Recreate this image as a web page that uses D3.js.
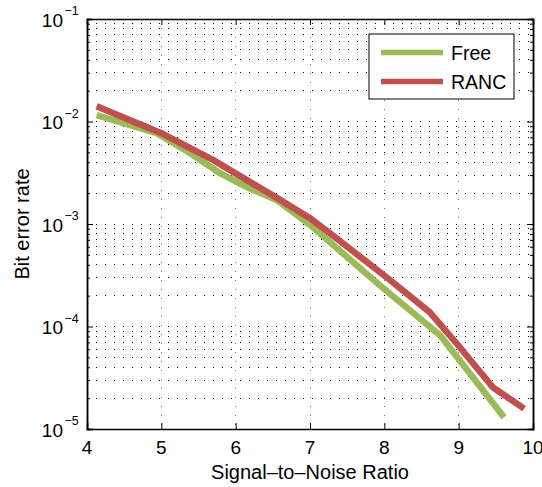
<!DOCTYPE html>
<html><head><meta charset="utf-8">
<script src="https://cdn.jsdelivr.net/npm/d3@7"></script>
<style>
html,body{margin:0;padding:0;background:#fff;}
svg text{font-family:"Liberation Sans",Arial,Helvetica,sans-serif;fill:#000;}
</style></head>
<body>
<svg id="chart" width="542" height="487"></svg>
<script>
// ---- data ----
const freeSNR = [4.13, 4.94, 5.39, 5.79, 6.15, 6.56, 7.0, 7.94, 8.75, 9.61];
const freeBER = [0.01155, 0.0077, 0.0049, 0.00313, 0.00229, 0.0017, 0.00098, 0.000252, 0.000082, 0.000013];
const rancSNR = [4.13, 5.0, 5.7, 6.15, 6.56, 7.0, 7.27, 8.08, 8.61, 8.99, 9.46, 9.88];
const rancBER = [0.0141, 0.0077, 0.0042, 0.00268, 0.00179, 0.00114, 0.00081, 0.000283, 0.000138, 0.000066, 0.0000255, 0.0000158];
const seriesNames = ["Free", "RANC"];
const seriesColors = ["#9bbb59", "#c0504d"];
const xTicks = [4, 5, 6, 7, 8, 9, 10];
const yTicks = [1e-5, 1e-4, 1e-3, 1e-2, 1e-1];
const yTickExp = ["−5", "−4", "−3", "−2", "−1"];
const xTitle = "Signal–to–Noise Ratio";
const yTitle = "Bit error rate";

// ---- layout ----
const PL = 87, PR = 533, PT = 19, PB = 429;
const svg = d3.select("#chart");
const x = d3.scaleLinear().domain([4, 10]).range([PL, PR]);
const y = d3.scaleLog().domain([1e-5, 1e-1]).range([PB, PT]);

// minor log positions
const yMinor = [];
for (let e = -5; e < -1; e++) for (let k = 2; k <= 9; k++) yMinor.push(k * Math.pow(10, e));

// grid
const grid = svg.append("g");
grid.selectAll("line.hg").data(yMinor.concat(yTicks.slice(1, -1))).enter().append("line")
  .attr("x1", PL).attr("x2", PR).attr("y1", d => y(d)).attr("y2", d => y(d))
  .attr("stroke", "#000").attr("stroke-width", 1).attr("stroke-dasharray", "1,8")
  .attr("shape-rendering", "crispEdges");
grid.selectAll("line.vg").data(xTicks.slice(1, -1)).enter().append("line")
  .attr("x1", d => x(d)).attr("x2", d => x(d)).attr("y1", PT).attr("y2", PB)
  .attr("stroke", "#777").attr("stroke-width", 1).attr("stroke-dasharray", "1,8")
  .attr("shape-rendering", "crispEdges");

// series
const series = [
  {name: seriesNames[0], color: seriesColors[0], xs: freeSNR, ys: freeBER},
  {name: seriesNames[1], color: seriesColors[1], xs: rancSNR, ys: rancBER}
];
const line = d3.line().x(d => x(d[0])).y(d => y(d[1]));
series.forEach(s => {
  svg.append("path").datum(s.xs.map((v, i) => [v, s.ys[i]]))
    .attr("d", line).attr("fill", "none").attr("stroke", s.color)
    .attr("stroke-width", 6.5).attr("stroke-linejoin", "miter");
});

// axes (ticks inward, box)
const axG = svg.append("g");
axG.append("g").attr("transform", `translate(0,${PB})`)
  .call(d3.axisBottom(x).tickValues(xTicks).tickSize(-6).tickFormat(""));
axG.append("g").attr("transform", `translate(0,${PT})`)
  .call(d3.axisTop(x).tickValues(xTicks).tickSize(-6).tickFormat(""));
axG.append("g").attr("transform", `translate(${PL},0)`)
  .call(d3.axisLeft(y).tickValues(yTicks).tickSize(-6).tickFormat(""));
axG.append("g").attr("transform", `translate(${PR},0)`)
  .call(d3.axisRight(y).tickValues(yTicks).tickSize(-6).tickFormat(""));
axG.append("g").attr("transform", `translate(${PL},0)`)
  .call(d3.axisLeft(y).tickValues(yMinor).tickSize(-3).tickFormat(""));
axG.append("g").attr("transform", `translate(${PR},0)`)
  .call(d3.axisRight(y).tickValues(yMinor).tickSize(-3).tickFormat(""));
axG.selectAll("path.domain").attr("stroke", "#000").attr("stroke-width", 1.5);
axG.selectAll(".tick line").attr("stroke", "#000").attr("stroke-width", 1);

// x tick labels
svg.append("g").selectAll("text").data(xTicks).enter().append("text")
  .attr("x", d => x(d)).attr("y", 454).attr("text-anchor", "middle")
  .attr("font-size", 19).text(d => d);

// y tick labels
const yl = svg.append("g").selectAll("g").data(yTicks).enter().append("g");
yl.append("text").attr("x", 63).attr("y", d => y(d) + 7.5).attr("text-anchor", "end")
  .attr("font-size", 19).text("10");
yl.append("text").attr("x", 64.5).attr("y", (d) => y(d) - 4).attr("text-anchor", "start")
  .attr("font-size", 12.5).text((d, i) => yTickExp[i]);

// titles
svg.append("text").attr("x", (PL + PR) / 2).attr("y", 479).attr("text-anchor", "middle")
  .attr("font-size", 20).text(xTitle);
svg.append("text").attr("transform", `translate(29,${(PT + PB) / 2}) rotate(-90)`)
  .attr("text-anchor", "middle").attr("font-size", 20).text(yTitle);

// legend
const lg = svg.append("g");
lg.append("rect").attr("x", 369).attr("y", 34).attr("width", 145).attr("height", 65)
  .attr("fill", "#fff").attr("stroke", "#000").attr("stroke-width", 1);
series.forEach((s, i) => {
  const ly = 52.5 + i * 29;
  lg.append("line").attr("x1", 381).attr("x2", 443).attr("y1", ly).attr("y2", ly)
    .attr("stroke", s.color).attr("stroke-width", 5.5);
  lg.append("text").attr("x", 451).attr("y", ly + 7).attr("font-size", 19.5).text(s.name);
});
</script>
</body></html>
